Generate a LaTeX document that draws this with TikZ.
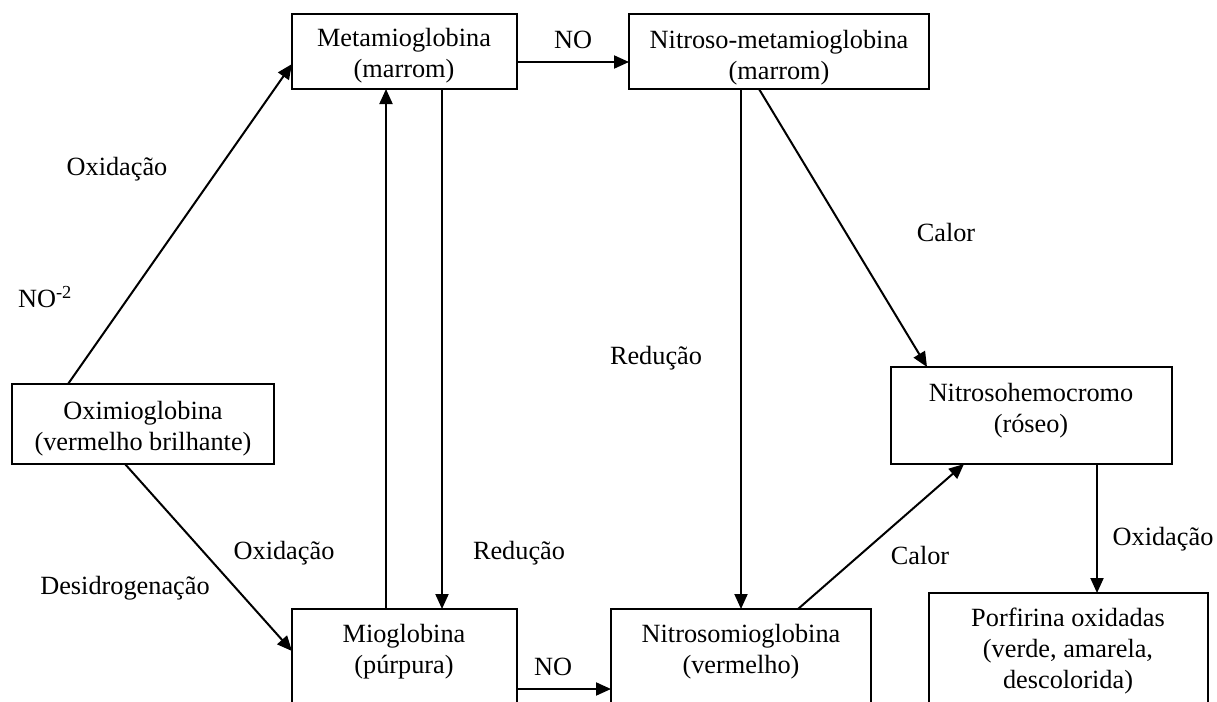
\documentclass[tikz,border=0pt]{standalone}
\usepackage{fontspec}
\setmainfont{Liberation Serif}
\usetikzlibrary{arrows.meta,calc}
\begin{document}
\begin{tikzpicture}[x=1pt,y=-1pt,
  box/.style={draw,line width=2pt,rectangle,inner sep=0pt,outer sep=0pt,anchor=north west},
  txt/.style={align=center,inner sep=0pt,font=\fontsize{26.3}{31}\selectfont},
  conn/.style={line width=2pt,-{Triangle[length=15pt,width=13pt]}}]
\useasboundingbox (0,0) rectangle (1217,701);
% boxes
\node[box,minimum width=225,minimum height=75] (meta) at (292,14) {};
\node[box,minimum width=300,minimum height=75] (nmeta) at (629,14) {};
\node[box,minimum width=262,minimum height=80] (oxi) at (12,384) {};
\node[box,minimum width=225,minimum height=130] (mio) at (292,609) {};
\node[box,minimum width=260,minimum height=130] (nmio) at (611,609) {};
\node[box,minimum width=281,minimum height=97] (nhemo) at (891,367) {};
\node[box,minimum width=279,minimum height=130] (porf) at (929,593) {};
% box texts
\node[txt] (metat) at (404,56) {Metamioglobina\\(marrom)};
\node[txt] (nmetat) at (779,57.5) {Nitroso-metamioglobina\\(marrom)};
\node[txt] (oxit) at (143,428.5) {Oximioglobina\\(vermelho brilhante)};
\node[txt] (miot) at (404,652) {Mioglobina\\(púrpura)};
\node[txt] (nmiot) at (741,652) {Nitrosomioglobina\\(vermelho)};
\node[txt] (nhemot) at (1031,411) {Nitrosohemocromo\\(róseo)};
\node[txt] (porft) at (1068,651) {Porfirina oxidadas\\(verde, amarela,\\descolorida)};
% labels
\node[txt] (lno1) at (573,40) {NO};
\node[txt] (lno2) at (45,297) {NO\textsuperscript{-2}};
\node[txt] (lox1) at (117,169) {Oxidação};
\node[txt] (lox2) at (284,553) {Oxidação};
\node[txt] (ldes) at (125,588) {Desidrogenação};
\node[txt] (lred1) at (519,553) {Redução};
\node[txt] (lred2) at (656,358) {Redução};
\node[txt] (lcal1) at (946,233) {Calor};
\node[txt] (lcal2) at (920,555) {Calor};
\node[txt] (lox3) at (1163,539) {Oxidação};
\node[txt] (lno3) at (553,667) {NO};
% connectors
\draw[conn] ($(oxi.north west)+(56,0)$) -- ($(meta.north west)+(0,50)$);
\draw[conn] ($(oxi.south west)+(113,0)$) -- ($(mio.north west)+(0,42)$);
\draw[conn] ($(meta.north east)+(0,48)$) -- ($(nmeta.north west)+(0,48)$);
\draw[conn] ($(mio.north west)+(94,0)$) -- ($(meta.south west)+(94,0)$);
\draw[conn] ($(meta.south west)+(150,0)$) -- ($(mio.north west)+(150,0)$);
\draw[conn] ($(nmeta.south west)+(112,0)$) -- ($(nmio.north west)+(130,0)$);
\draw[conn] ($(nmeta.south west)+(130,0)$) -- ($(nhemo.north west)+(36,0)$);
\draw[conn] ($(nmio.north west)+(187,0)$) -- ($(nhemo.south west)+(73,0)$);
\draw[conn] ($(nhemo.south west)+(206,0)$) -- ($(porf.north west)+(168,0)$);
\draw[conn] ($(mio.north east)+(0,80)$) -- ($(nmio.north west)+(0,80)$);
\end{tikzpicture}
\end{document}
